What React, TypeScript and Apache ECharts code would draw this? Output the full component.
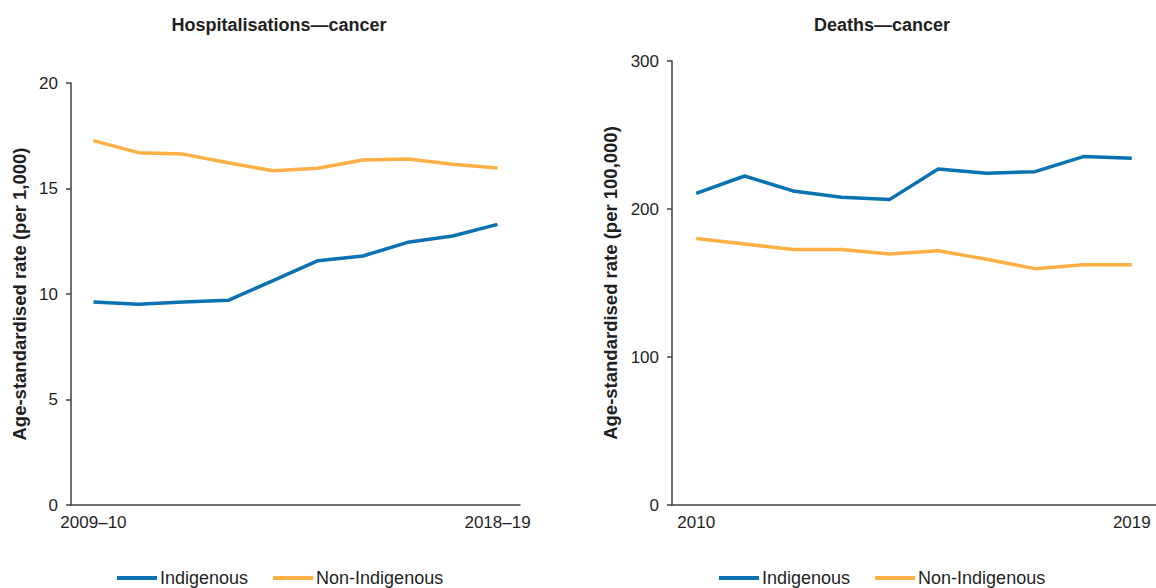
import React, { useEffect, useRef } from "react";
import * as echarts from "echarts";

const hospCategories = ["2009–10", "2010–11", "2011–12", "2012–13", "2013–14", "2014–15", "2015–16", "2016–17", "2017–18", "2018–19"];
const deathCategories = ["2010", "2011", "2012", "2013", "2014", "2015", "2016", "2017", "2018", "2019"];

const hospIndigenous = [9.62, 9.51, 9.62, 9.7, 10.63, 11.58, 11.8, 12.45, 12.75, 13.3];
const hospNonIndigenous = [17.27, 16.7, 16.63, 16.22, 15.84, 15.96, 16.35, 16.4, 16.15, 15.97];
const deathIndigenous = [210.6, 222.3, 212.2, 207.9, 206.5, 227.0, 224.1, 225.2, 235.4, 234.3];
const deathNonIndigenous = [180.0, 176.4, 172.7, 172.7, 169.6, 171.8, 166.0, 159.7, 162.4, 162.4];

const hospTicks = { min: 0, max: 20, interval: 5 };
const deathTicks = { min: 0, max: 300, interval: 100 };

const BLUE = "#0a72b2";
const ORANGE = "#fdb043";
const FONT = "Liberation Sans, Arial, sans-serif";
const TEXT = "#1f1f1f";
const AXIS = "#404040";

export default function App() {
  const ref = useRef<HTMLDivElement>(null);
  useEffect(() => {
    if (!ref.current) return;
    const chart = echarts.init(ref.current, undefined, { renderer: "svg" });
    const firstLast = (n: number) => (i: number) => i === 0 || i === n - 1;
    const xAxisBase = (cats: string[]) => ({
      type: "category" as const,
      data: cats,
      boundaryGap: true,
      axisLine: { lineStyle: { color: AXIS, width: 1.5 } },
      axisTick: { show: false },
      axisLabel: {
        interval: firstLast(cats.length),
        margin: 9,
        fontSize: 17,
        color: TEXT,
        fontFamily: FONT,
      },
      splitLine: { show: false },
    });
    const yAxisBase = (t: { min: number; max: number; interval: number }, name: string, gap: number) => ({
      type: "value" as const,
      min: t.min,
      max: t.max,
      interval: t.interval,
      name,
      nameLocation: "middle" as const,
      nameGap: gap,
      nameRotate: 90,
      nameTextStyle: { fontSize: 18.5, fontWeight: "bold" as const, color: TEXT, fontFamily: FONT },
      axisLine: { show: true, lineStyle: { color: AXIS, width: 1.5 } },
      axisTick: { show: true, length: 5, lineStyle: { color: AXIS, width: 1.5 } },
      axisLabel: { fontSize: 17, color: TEXT, fontFamily: FONT, margin: 13 },
      splitLine: { show: false },
    });
    const lineSeries = (name: string, data: number[], color: string, idx: number) => ({
      name,
      type: "line" as const,
      data,
      xAxisIndex: idx,
      yAxisIndex: idx,
      symbol: "none",
      showSymbol: false,
      lineStyle: { color, width: 3.5 },
      itemStyle: { color },
    });
    const legendBase = (left: number) => ({
      left,
      top: 564,
      icon: "rect",
      itemWidth: 40,
      itemHeight: 4,
      itemGap: 25,
      textStyle: { fontSize: 18, color: TEXT, fontFamily: FONT, padding: [0, 0, 0, -2] },
      data: ["Indigenous", "Non-Indigenous"],
      selectedMode: false,
    });
    chart.setOption({
      animation: false,
      backgroundColor: "#ffffff",
      title: [
        {
          text: "Hospitalisations—cancer",
          left: 274,
          top: 11,
          textAlign: "center",
          textStyle: { fontSize: 18, fontWeight: "bold", color: TEXT, fontFamily: FONT },
        },
        {
          text: "Deaths—cancer",
          left: 877,
          top: 11,
          textAlign: "center",
          textStyle: { fontSize: 18, fontWeight: "bold", color: TEXT, fontFamily: FONT },
        },
      ],
      grid: [
        { left: 71, top: 83, width: 449, height: 422, containLabel: false },
        { left: 672, top: 61, width: 487, height: 444, containLabel: false },
      ],
      xAxis: [
        { ...xAxisBase(hospCategories), gridIndex: 0 },
        { ...xAxisBase(deathCategories), gridIndex: 1 },
      ],
      yAxis: [
        { ...yAxisBase(hospTicks, "Age-standardised rate (per 1,000)", 42), gridIndex: 0 },
        { ...yAxisBase(deathTicks, "Age-standardised rate (per 100,000)", 52), gridIndex: 1 },
      ],
      legend: [legendBase(112), legendBase(714)],
      series: [
        lineSeries("Indigenous", hospIndigenous, BLUE, 0),
        lineSeries("Non-Indigenous", hospNonIndigenous, ORANGE, 0),
        lineSeries("Indigenous", deathIndigenous, BLUE, 1),
        lineSeries("Non-Indigenous", deathNonIndigenous, ORANGE, 1),
      ],
    });
    return () => chart.dispose();
  }, []);
  return (
    <div
      ref={ref}
      style={{ position: "fixed", left: 0, top: 0, width: 1156, height: 588, background: "#fff" }}
    />
  );
}
